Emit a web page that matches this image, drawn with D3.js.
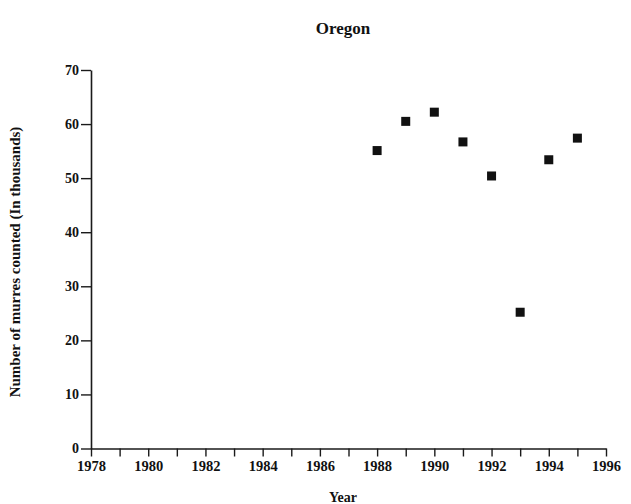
<!DOCTYPE html>
<html>
<head>
<meta charset="utf-8">
<script src="https://cdn.jsdelivr.net/npm/d3@7"></script>
<style>
  html, body { margin: 0; padding: 0; background: #fff; }
  svg { display: block; }
  text { font-family: "Liberation Serif", "Times New Roman", serif; font-weight: bold; fill: #111; }
</style>
</head>
<body>
<script>
const years = [1988, 1989, 1990, 1991, 1992, 1993, 1994, 1995];
const murres = [55.1, 60.5, 62.2, 56.7, 50.4, 25.2, 53.4, 57.4];
const xTickValues = [1978, 1979, 1980, 1981, 1982, 1983, 1984, 1985, 1986, 1987, 1988, 1989, 1990, 1991, 1992, 1993, 1994, 1995, 1996];
const xTickLabels = [1978, 1980, 1982, 1984, 1986, 1988, 1990, 1992, 1994, 1996];
const yTickValues = [0, 10, 20, 30, 40, 50, 60, 70];
const title = "Oregon";
const xTitle = "Year";
const yTitle = "Number of murres counted (In thousands)";

const W = 631, H = 504;
const svg = d3.select("body").append("svg").attr("width", W).attr("height", H);

const x = d3.scaleLinear().domain([1978, 1996]).range([91, 606]);
const y = d3.scaleLinear().domain([0, 70]).range([448.5, 70]);

const ink = "#1a1a1a";

// X axis
const xAxis = svg.append("g").attr("transform", `translate(0,${y(0)})`)
  .call(d3.axisBottom(x).tickValues(xTickValues).tickSize(8).tickSizeOuter(0)
    .tickFormat(d => xTickLabels.includes(d) ? d : ""));
xAxis.select(".domain").attr("stroke", ink).attr("stroke-width", 1.6);
xAxis.selectAll(".tick line").attr("stroke", ink).attr("stroke-width", 1.4);
xAxis.selectAll(".tick text").attr("fill", ink).attr("font-size", 14.5)
  .attr("font-family", '"Liberation Serif", serif').attr("font-weight", "bold")
  .attr("y", 12).attr("dy", "0.71em");

// Y axis
const yAxis = svg.append("g").attr("transform", `translate(${x(1978)},0)`)
  .call(d3.axisLeft(y).tickValues(yTickValues).tickSize(10).tickSizeOuter(0).tickPadding(2));
yAxis.select(".domain").attr("stroke", ink).attr("stroke-width", 1.6);
yAxis.selectAll(".tick line").attr("stroke", ink).attr("stroke-width", 1.4);
yAxis.selectAll(".tick text").attr("fill", ink).attr("font-size", 14)
  .attr("font-family", '"Liberation Serif", serif').attr("font-weight", "bold");

// Points
svg.append("g").selectAll("rect").data(years).join("rect")
  .attr("x", (d) => x(d) - 4.5)
  .attr("y", (d, i) => y(murres[i]) - 4.5)
  .attr("width", 9).attr("height", 9)
  .attr("fill", "#111");

// Titles
svg.append("text").attr("x", 343).attr("y", 34).attr("text-anchor", "middle")
  .attr("font-size", 17).text(title);
svg.append("text").attr("x", 343).attr("y", 502).attr("text-anchor", "middle")
  .attr("font-size", 14).text(xTitle);
svg.append("text").attr("transform", `translate(20,262) rotate(-90)`)
  .attr("text-anchor", "middle").attr("font-size", 15).text(yTitle);
</script>
</body>
</html>
